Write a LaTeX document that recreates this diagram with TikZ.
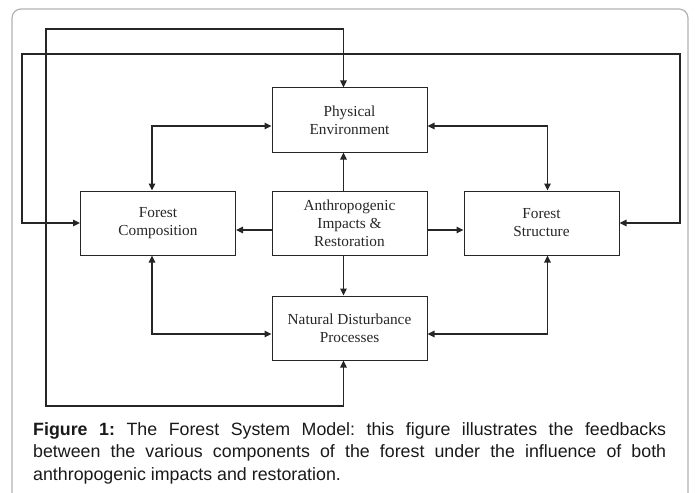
\documentclass[tikz,border=0pt]{standalone}
\usepackage{fontspec}
\setmainfont{Liberation Serif}
\newfontfamily\capfont{Liberation Sans}
\usetikzlibrary{arrows.meta,positioning}
\frenchspacing

\begin{document}
\begin{tikzpicture}[x=1pt,y=1pt,node distance=38pt and 35.5pt,
  box/.style={draw=black!85,line width=1pt,align=center,inner sep=0pt,text=black!85,font=\fontsize{15.3}{18}\selectfont,minimum width=155pt,minimum height=64pt},
  arr/.style={-{Triangle[length=7pt,width=6.5pt]},line width=1.3pt,draw=black!85},
  biarr/.style={{Triangle[length=7pt,width=6.5pt]}-{Triangle[length=7pt,width=6.5pt]},line width=1.3pt,draw=black!85}]
\useasboundingbox (0,0) rectangle (695,-492);
\draw[black!30,line width=1.2pt,rounded corners=9pt] (12,-500) -- (12,-9) -- (688,-9) -- (688,-500);
\node[box] (anthro) at (349.5,-223) {Anthropogenic\\Impacts \&\\Restoration};
\node[box,above=of anthro] (phys) {Physical\\Environment};
\node[box,left=of anthro] (comp) {Forest\\Composition};
\node[box,right=36pt of anthro] (struct) {Forest\\Structure};
\node[box,below=40pt of anthro] (dist) {Natural Disturbance\\Processes};
% outer feedback loops
\coordinate (loopAbot) at (46,-406); \coordinate (loopAtop) at (46,-29);
\coordinate (loopBleft) at (22,-54); \coordinate (loopBright) at (680,-54);
\draw[biarr] ([xshift=-6pt]dist.south) |- (loopAbot) -- (loopAtop) -| ([xshift=-6pt]phys.north);
\draw[biarr] (comp.west) -| (loopBleft) -- (loopBright) |- (struct.east);
% anthropogenic influence
\draw[arr] ([xshift=-6pt]anthro.north) -- ([xshift=-6pt]phys.south);
\draw[arr] ([xshift=-6pt]anthro.south) -- ([xshift=-6pt]dist.north);
\draw[arr] ([yshift=-7pt]anthro.west) -- ([yshift=-7pt]comp.east);
\draw[arr] ([yshift=-7pt]anthro.east) -- ([yshift=-7pt]struct.west);
% feedbacks
\draw[biarr] ([xshift=-6pt]comp.north) |- ([yshift=-6pt]phys.west);
\draw[biarr] ([xshift=6pt]struct.north) |- ([yshift=-6pt]phys.east);
\draw[biarr] ([xshift=-6pt]comp.south) |- ([yshift=-6pt]dist.west);
\draw[biarr] ([xshift=6pt]struct.south) |- ([yshift=-6pt]dist.east);
\node[anchor=north west,inner sep=0pt,text width=633pt,align=justify,text=black!90,font=\capfont\fontsize{17.8}{22.5}\selectfont] (caption) at (33,-422)
  {\textbf{Figure 1:} The Forest System Model: this figure illustrates the feedbacks\linebreak between the various components of the forest under the influence of both\linebreak anthropogenic impacts and restoration.};
\end{tikzpicture}
\end{document}
